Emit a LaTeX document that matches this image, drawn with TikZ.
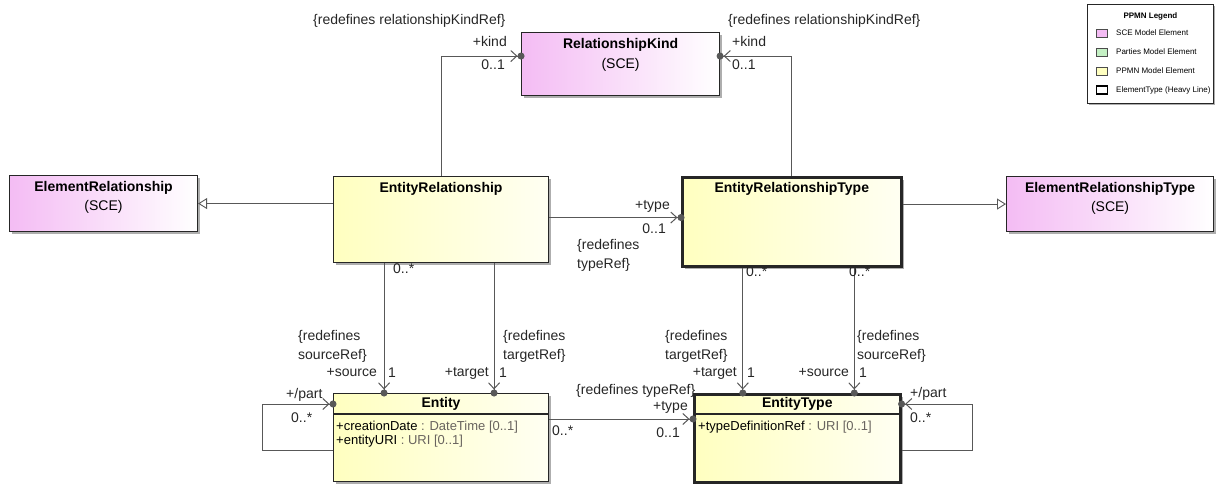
\documentclass[tikz,border=0pt]{standalone}
\usepackage{fontspec}
\setmainfont{Liberation Sans}
\usetikzlibrary{arrows.meta,shadows}
\definecolor{scepink}{RGB}{244,188,244}
\definecolor{ppmnyel}{RGB}{255,255,192}
\definecolor{ppmnyel2}{RGB}{255,255,242}
\definecolor{partgreen}{RGB}{196,240,196}
\definecolor{conn}{RGB}{88,88,88}
\definecolor{typegray}{RGB}{105,100,95}

\begin{document}
\begin{tikzpicture}[x=1pt,y=-1pt,
  box/.style={draw=black!85, line width=1.1pt, inner sep=0pt, anchor=north west,
    drop shadow={shadow xshift=2.5pt, shadow yshift=-2.5pt, fill=black!45, opacity=0.7}},
  sce/.style={box, left color=scepink, right color=white},
  ppmn/.style={box, left color=ppmnyel, right color=ppmnyel2},
  heavy/.style={line width=2.6pt},
  cname/.style={font=\fontsize{14}{16}\bfseries\selectfont, inner sep=0pt},
  csub/.style={font=\fontsize{14}{16}\selectfont, inner sep=0pt},
  lbl/.style={font=\fontsize{14}{19}\selectfont, inner sep=0pt, text=black!85, align=left},
  attr/.style={font=\fontsize{13}{15}\selectfont, inner sep=0pt, anchor=west},
  assoc/.style={draw=conn, line width=0.9pt,
    -{Straight Barb[length=6pt,width=11pt,line width=1pt] Circle[length=7pt]},
    shorten >=-3.5pt},
  gen/.style={draw=conn, line width=0.9pt, -{Triangle[open,length=9pt,width=11pt,fill=white]}},
  sep/.style={draw=black!85, line width=1.1pt},
  lgtext/.style={font=\fontsize{8}{9}\selectfont, inner sep=0pt, anchor=west},
  swatch/.style={line width=0.6pt, minimum width=11pt, minimum height=8pt, inner sep=0pt}
]
\useasboundingbox (0,0) rectangle (1221,484);

% ---- classes ----
\node[sce, minimum width=198pt, minimum height=63pt] (rk) at (521,32) {};
\node[cname] at ([yshift=-13pt]rk.north) {RelationshipKind};
\node[csub]  at ([yshift=-33pt]rk.north) {(SCE)};

\node[sce, minimum width=188pt, minimum height=56pt] (elrel) at (9,175) {};
\node[cname] at ([yshift=-13pt]elrel.north) {ElementRelationship};
\node[csub]  at ([yshift=-32pt]elrel.north) {(SCE)};

\node[sce, minimum width=207pt, minimum height=55pt] (elrt) at (1006,176) {};
\node[cname] at ([yshift=-13pt]elrt.north) {ElementRelationshipType};
\node[csub]  at ([yshift=-32pt]elrt.north) {(SCE)};

\node[ppmn, minimum width=215pt, minimum height=86pt] (er) at (333,176) {};
\node[cname] at ([yshift=-13pt]er.north) {EntityRelationship};

\node[ppmn, heavy, minimum width=219pt, minimum height=89pt] (ert) at (681,176) {};
\node[cname] at ([yshift=-13pt]ert.north) {EntityRelationshipType};

\node[ppmn, minimum width=215pt, minimum height=88pt] (ent) at (333,393) {};
\draw[sep] ([yshift=-21pt]ent.north west) -- ([yshift=-21pt]ent.north east);
\node[cname] at ([yshift=-11pt]ent.north) {Entity};
\node[attr] at ([xshift=3pt,yshift=-34pt]ent.north west) {+creationDate \textcolor{typegray}{: DateTime [0..1]}};
\node[attr] at ([xshift=3pt,yshift=-48pt]ent.north west) {+entityURI \textcolor{typegray}{: URI [0..1]}};

\node[ppmn, heavy, minimum width=206pt, minimum height=88pt] (et) at (693,393) {};
\draw[sep, line width=2.6pt] ([yshift=-21pt]et.north west) -- ([yshift=-21pt]et.north east);
\node[cname] at ([yshift=-11pt]et.north) {EntityType};
\node[attr] at ([xshift=5pt,yshift=-34pt]et.north west) {+typeDefinitionRef \textcolor{typegray}{: URI [0..1]}};

% ---- generalizations ----
\draw[gen] (er.west |- elrel.east) -- (elrel.east);
\draw[gen] (ert.east |- elrt.west) -- (elrt.west);

% ---- associations ----
\coordinate (kin) at ([yshift=8pt]rk.west);
\coordinate (kout) at ([yshift=8pt]rk.east);
\draw[assoc] (er.north) |- (kin);
\draw[assoc] (ert.north) |- (kout);
\coordinate (tin) at ([yshift=2pt]er.east);
\draw[assoc] (tin) -- (tin -| ert.west);

\coordinate (s1) at ([xshift=-57pt]er.south);
\coordinate (s2) at ([xshift=53pt]er.south);
\coordinate (s3) at ([xshift=-49pt]ert.south);
\coordinate (s4) at ([xshift=62.5pt]ert.south);
\draw[assoc] (s1) -- (s1 |- ent.north);
\draw[assoc] (s2) -- (s2 |- ent.north);
\draw[assoc] (s3) -- (s3 |- et.north);
\draw[assoc] (s4) -- (s4 |- et.north);

\coordinate (s5) at ([yshift=-26pt]ent.north east);
\draw[assoc] (s5) -- (s5 -| et.west);

\draw[assoc] ([yshift=-57pt]ent.north west) -- ++(-71,0) |- ([yshift=-11pt]ent.north west);
\draw[assoc] ([yshift=-57pt]et.north east) -- ++(71,0) |- ([yshift=-11pt]et.north east);

% ---- role labels ----
\node[lbl, anchor=west] at (313,21) {\{redefines relationshipKindRef\}};
\node[lbl, anchor=east] at (507,41) {+kind};
\node[lbl, anchor=east] at (505,65) {0..1};
\node[lbl, anchor=west] at (728,21) {\{redefines relationshipKindRef\}};
\node[lbl, anchor=west] at (732,41) {+kind};
\node[lbl, anchor=west] at (732,65) {0..1};

\node[lbl, anchor=east] at (670,206) {+type};
\node[lbl, anchor=east] at (666,229) {0..1};
\node[lbl, anchor=west] at (577,255) {\{redefines\\typeRef\}};

\node[lbl, anchor=west] at (393,269) {0..*};
\node[lbl, anchor=west] at (298,346) {\{redefines\\sourceRef\}};
\node[lbl, anchor=east] at (377,373) {+source};
\node[lbl, anchor=west] at (388,373) {1};
\node[lbl, anchor=west] at (503,346) {\{redefines\\targetRef\}};
\node[lbl, anchor=east] at (489,373) {+target};
\node[lbl, anchor=west] at (499,373) {1};

\node[lbl, anchor=west] at (746,272) {0..*};
\node[lbl, anchor=west] at (849,272) {0..*};
\node[lbl, anchor=west] at (665,346) {\{redefines\\targetRef\}};
\node[lbl, anchor=east] at (737,373) {+target};
\node[lbl, anchor=west] at (747,373) {1};
\node[lbl, anchor=west] at (857,346) {\{redefines\\sourceRef\}};
\node[lbl, anchor=east] at (849,373) {+source};
\node[lbl, anchor=west] at (859,373) {1};

\node[lbl, anchor=west] at (286,395) {+/part};
\node[lbl, anchor=west] at (291,418) {0..*};
\node[lbl, anchor=west] at (552,431) {0..*};
\node[lbl, anchor=west] at (576,391) {\{redefines typeRef\}};
\node[lbl, anchor=east] at (688,407) {+type};
\node[lbl, anchor=east] at (680,433) {0..1};
\node[lbl, anchor=west] at (910,394) {+/part};
\node[lbl, anchor=west] at (910,418) {0..*};

% ---- legend ----
\node[draw=black!85, line width=0.9pt, fill=white, anchor=north west,
      minimum width=126pt, minimum height=99pt, inner sep=0pt,
      drop shadow={shadow xshift=1.5pt, shadow yshift=-1.5pt, fill=black!45, opacity=0.7}] (lg) at (1087,4) {};
\node[font=\fontsize{8}{9}\bfseries\selectfont, inner sep=0pt] at ([yshift=-12pt]lg.north) {PPMN Legend};
\node[swatch, draw=black!70, fill=scepink] (sw1) at (1102,33) {};
\node[lgtext] at (1116,33) {SCE Model Element};
\node[swatch, draw=black!70, fill=partgreen] (sw2) at (1102,52) {};
\node[lgtext] at (1116,52) {Parties Model Element};
\node[swatch, draw=black!70, fill=ppmnyel] (sw3) at (1102,71) {};
\node[lgtext] at (1116,71) {PPMN Model Element};
\node[swatch, draw=black, line width=1.4pt, fill=white] (sw4) at (1102,90) {};
\node[lgtext] at (1116,90) {ElementType (Heavy Line)};
\end{tikzpicture}
\end{document}
